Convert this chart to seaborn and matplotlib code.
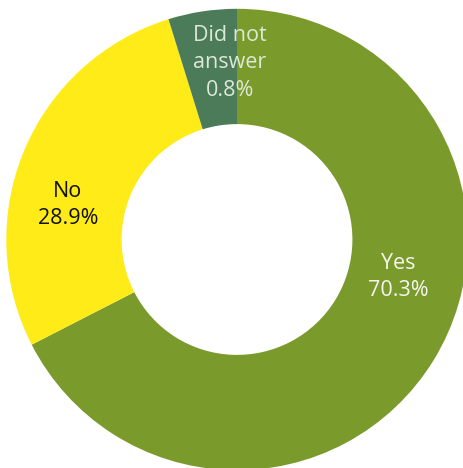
import numpy as np
import matplotlib
matplotlib.use("Agg")
import matplotlib.pyplot as plt
import seaborn as sns

# ---- data ----
categories = ["Yes", "No", "Did not\nanswer"]
percentages = [70.3, 28.9, 0.8]
colors = ["#7B9A2C", "#FFEB17", "#4B7B58"]
text_colors = ["#F6F6F0", "#111111", "#DCE9D6"]

# ---- display rule: tiny slices drawn at a minimum visible share ----
MIN_SHARE = 0.048
vals = np.array(percentages, dtype=float)
share = vals / vals.sum()
small = share < MIN_SHARE
draw = share.copy()
draw[small] = MIN_SHARE
draw[~small] = share[~small] / share[~small].sum() * (1 - MIN_SHARE * small.sum())

sns.set_theme(style="white")
plt.rcParams["font.family"] = ["Open Sans", "DejaVu Sans"]

W, H = 464, 468
fig = plt.figure(figsize=(W / 100, H / 100), dpi=100)
ax = fig.add_axes([0, 0, 1, 1])

cx, cy = 237, H - 239.5
R = 230.7
ring = 115.3
ax.pie(draw, colors=colors, startangle=90, counterclock=False,
       center=(cx, cy), radius=R,
       wedgeprops=dict(width=ring, linewidth=0))

label_xy = [(398, H - 277), (68, H - 205), (230, H - 63)]
for cat, p, (x, y), tc in zip(categories, percentages, label_xy, text_colors):
    ax.text(x, y, f"{cat}\n{p:.1f}%", ha="center", va="center",
            fontsize=15.5, color=tc, linespacing=1.38)

ax.set_xlim(0, W)
ax.set_ylim(0, H)
ax.set_aspect("equal")
ax.axis("off")
fig.savefig("out.png", dpi=100)
